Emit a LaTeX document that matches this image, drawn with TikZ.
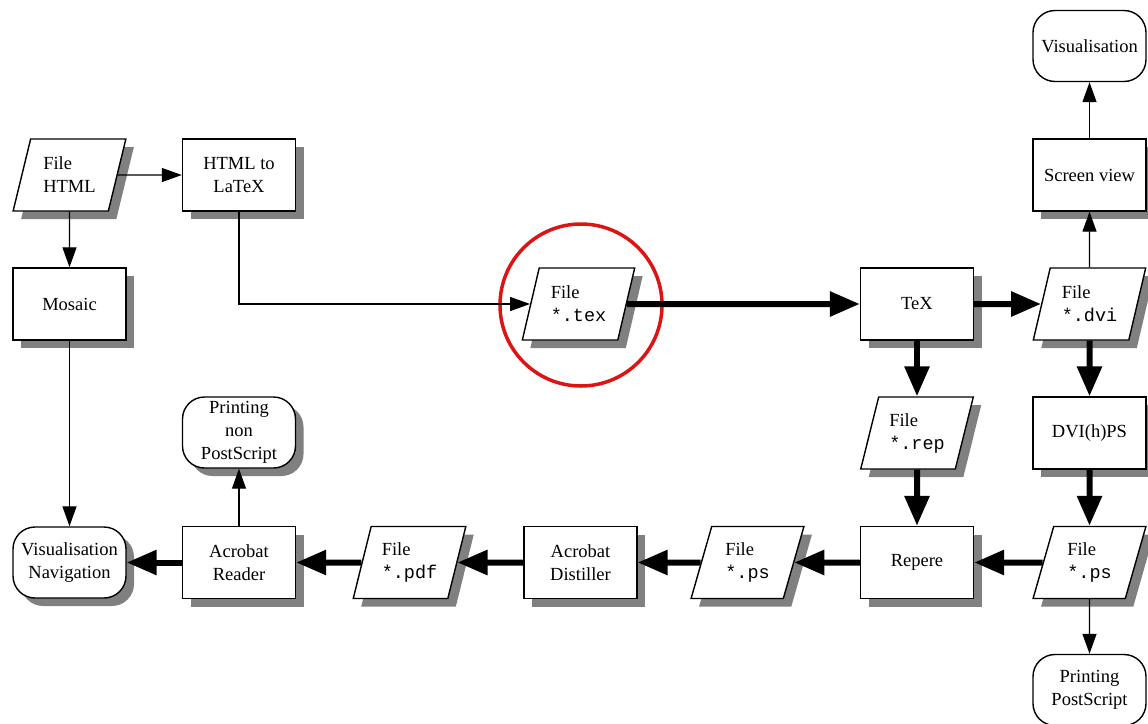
\documentclass[tikz,border=0pt]{standalone}
\usepackage{fontspec}
\setmainfont{Liberation Serif}
\setmonofont{Liberation Mono}
\usetikzlibrary{shapes.geometric,shadows,arrows.meta}
\definecolor{hlred}{RGB}{220,20,20}
\definecolor{shadowgray}{RGB}{128,128,128}
\begin{document}
\begin{tikzpicture}[x=1pt,y=-1pt,
  shad/.style={drop shadow={shadow xshift=8pt, shadow yshift=-8pt, fill=shadowgray, opacity=1}},
  base/.style={draw, line width=1.4pt, fill=white, font=\fontsize{18.5}{23}\selectfont, inner sep=2pt},
  procbox/.style={base, shad, rectangle, align=center, minimum width=113pt, minimum height=72pt},
  filebox/.style={base, shad, trapezium, trapezium left angle=72.3, trapezium right angle=107.7,
    trapezium stretches=true, align=left, minimum width=113pt, minimum height=72pt},
  termbox/.style={base, rectangle, rounded corners=22pt, align=center, minimum width=113pt, minimum height=71pt},
  termshad/.style={termbox, shad},
  thinarr/.style={line width=1.3pt, -{Triangle[length=20pt,width=14pt]}},
  thickarr/.style={line width=6pt, -{Triangle[length=30pt,width=24pt]}}
]
\useasboundingbox (0,0) rectangle (1148,723);

% highlight circle
\node[circle, draw=hlred, line width=3.5pt, minimum size=162pt, inner sep=0pt] (hl) at (581,305) {};

% nodes
\node[filebox] (fhtml) at (69.5,175) {File\\HTML};
\node[procbox] (h2l) at (239,175) {HTML to\\LaTeX};
\node[procbox] (mosaic) at (69.5,304) {Mosaic};
\node[filebox] (ftex) at (578.5,304) {File\\\texttt{*.tex}};
\node[procbox] (tex) at (917,304) {TeX};
\node[filebox] (fdvi) at (1089.5,304) {File\\\texttt{*.dvi}};
\node[procbox] (screen) at (1089.5,175) {Screen view};
\node[termbox] (vis) at (1089.5,46) {Visualisation};
\node[filebox] (frep) at (917,433) {File\\\texttt{*.rep}};
\node[procbox] (dvips) at (1089.5,433) {DVI(h)PS};
\node[termshad] (pnps) at (239,432.5) {Printing\\non\\PostScript};
\node[procbox] (repere) at (917,562.5) {Repere};
\node[filebox] (fps) at (1089.5,562.5) {File\\\texttt{*.ps}};
\node[filebox] (fpsb) at (747.5,562.5) {File\\\texttt{*.ps}};
\node[procbox] (distiller) at (580.5,562.5) {Acrobat\\Distiller};
\node[filebox] (fpdf) at (409.5,562.5) {File\\\texttt{*.pdf}};
\node[procbox] (reader) at (239,562.5) {Acrobat\\Reader};
\node[termshad] (visnav) at (69.5,562.5) {Visualisation\\Navigation};
\node[termbox] (pps) at (1089.5,690) {Printing\\PostScript};

% connectors
\draw[thinarr] (fhtml) -- (h2l);
\draw[thinarr] (fhtml) -- (mosaic);
\draw[thinarr] (h2l.south) |- (ftex);
\draw[thinarr] (mosaic) -- (visnav);
\draw[thickarr] (ftex) -- (tex);
\draw[thickarr] (tex) -- (fdvi);
\draw[thinarr] (fdvi) -- (screen);
\draw[thinarr] (screen) -- (vis);
\draw[thickarr] (tex) -- (frep);
\draw[thickarr] (fdvi) -- (dvips);
\draw[thickarr] (frep) -- (repere);
\draw[thickarr] (dvips) -- (fps);
\draw[thickarr] (fps) -- (repere);
\draw[thickarr] (repere) -- (fpsb);
\draw[thickarr] (fpsb) -- (distiller);
\draw[thickarr] (distiller) -- (fpdf);
\draw[thickarr] (fpdf) -- (reader);
\draw[thickarr] (reader) -- (visnav);
\draw[thinarr] (reader) -- (pnps);
\draw[thinarr] (fps) -- (pps);
\end{tikzpicture}
\end{document}
